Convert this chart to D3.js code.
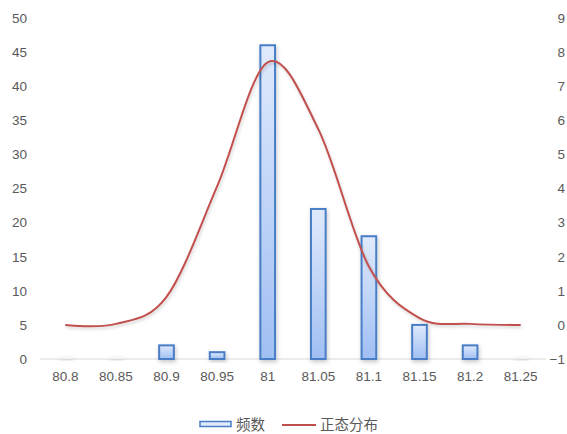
<!DOCTYPE html>
<html>
<head>
<meta charset="utf-8">
<script src="https://cdn.jsdelivr.net/npm/d3@7/dist/d3.min.js"></script>
<style>
  html, body { margin: 0; padding: 0; background: #fff; }
  svg { display: block; }
  text { font-family: "Liberation Sans", Arial, sans-serif; fill: #595959; }
  .cjk { font-family: "Noto Sans CJK SC", sans-serif; }
</style>
</head>
<body>
<svg id="chart" width="567" height="434"></svg>
<script>
// Measurement bins, counts per bin and the fitted normal density
const categories = ["80.8", "80.85", "80.9", "80.95", "81", "81.05", "81.1", "81.15", "81.2", "81.25"];
const counts = [0, 0, 2, 1, 46, 22, 18, 5, 2, 0];
const density = [0.0, 0.03, 0.82, 4.06, 7.70, 5.74, 1.71, 0.20, 0.03, 0.0];
const leftTicks = [0, 5, 10, 15, 20, 25, 30, 35, 40, 45, 50];
const rightTicks = [-1, 0, 1, 2, 3, 4, 5, 6, 7, 8, 9];
const seriesNames = ["频数", "正态分布"];

const svg = d3.select("#chart");
const plot = { left: 40, right: 546, top: 18, bottom: 359 };

const x = d3.scaleBand().domain(categories).range([plot.left, plot.right]);
const yL = d3.scaleLinear().domain([0, 50]).range([plot.bottom, plot.top]);
const yR = d3.scaleLinear().domain([-1, 9]).range([plot.bottom, plot.top]);

const defs = svg.append("defs");
const grad = defs.append("linearGradient")
  .attr("id", "barFill").attr("x1", 0).attr("y1", 0).attr("x2", 0).attr("y2", 1);
grad.append("stop").attr("offset", "0%").attr("stop-color", "#e0eafc");
grad.append("stop").attr("offset", "100%").attr("stop-color", "#a0bff3");

const shadow = defs.append("filter").attr("id", "shadow")
  .attr("x", "-50%").attr("y", "-50%").attr("width", "200%").attr("height", "200%");
shadow.append("feDropShadow")
  .attr("dx", 1).attr("dy", 2).attr("stdDeviation", 2)
  .attr("flood-color", "#000").attr("flood-opacity", 0.22);

const lineShadow = defs.append("filter").attr("id", "lineShadow")
  .attr("x", "-10%").attr("y", "-10%").attr("width", "120%").attr("height", "120%");
lineShadow.append("feDropShadow")
  .attr("dx", 1).attr("dy", 2).attr("stdDeviation", 1.5)
  .attr("flood-color", "#000").attr("flood-opacity", 0.18);

// Baseline
svg.append("line")
  .attr("x1", plot.left).attr("x2", plot.right)
  .attr("y1", plot.bottom).attr("y2", plot.bottom)
  .attr("stroke", "#d9d9d9").attr("stroke-width", 1);

// Left axis labels
const leftAxis = d3.axisLeft(yL).tickValues(leftTicks).tickSize(0).tickPadding(0);
const gL = svg.append("g").attr("transform", "translate(27,0)").call(leftAxis);
gL.select(".domain").remove();
gL.selectAll("text").attr("font-size", 13.5).attr("fill", "#595959")
  .attr("font-family", "Liberation Sans, Arial, sans-serif");

// Right axis labels
const rightAxis = d3.axisLeft(yR).tickValues(rightTicks).tickSize(0).tickPadding(0);
const gR = svg.append("g").attr("transform", "translate(565,0)").call(rightAxis);
gR.select(".domain").remove();
gR.selectAll("text").attr("font-size", 13.5).attr("fill", "#595959")
  .attr("font-family", "Liberation Sans, Arial, sans-serif");

// Category labels
const bottomAxis = d3.axisBottom(x).tickSize(0).tickPadding(0);
const gB = svg.append("g").attr("transform", `translate(0,${plot.bottom + 12})`).call(bottomAxis);
gB.select(".domain").remove();
gB.selectAll("text").attr("font-size", 13.5).attr("fill", "#595959")
  .attr("font-family", "Liberation Sans, Arial, sans-serif");

// Frequency bars
const barW = x.bandwidth() * 0.29;
const bars = svg.append("g");
bars.selectAll("rect.shade")
  .data(categories.map((c, i) => ({ c, v: counts[i] })).filter(d => d.v === 0))
  .join("rect")
  .attr("class", "shade")
  .attr("x", d => x(d.c) + x.bandwidth() / 2 - barW / 2)
  .attr("y", yL(0) - 3)
  .attr("width", barW).attr("height", 3)
  .attr("fill", "#f4f4f4")
  .attr("filter", "url(#shadow)")
  .attr("opacity", 0.6);

bars.selectAll("rect.bar")
  .data(categories.map((c, i) => ({ c, v: counts[i] })).filter(d => d.v > 0))
  .join("rect")
  .attr("class", "bar")
  .attr("x", d => x(d.c) + x.bandwidth() / 2 - barW / 2)
  .attr("y", d => yL(d.v))
  .attr("width", barW)
  .attr("height", d => yL(0) - yL(d.v))
  .attr("fill", "url(#barFill)")
  .attr("stroke", "#4a7ec6")
  .attr("stroke-width", 2)
  .attr("filter", "url(#shadow)");

// Normal density curve, smoothed through the bin centres
const line = d3.line()
  .x((d, i) => x(categories[i]) + x.bandwidth() / 2)
  .y(d => yR(d))
  .curve(d3.curveCatmullRom.alpha(0));
svg.append("path")
  .datum(density)
  .attr("d", line)
  .attr("fill", "none")
  .attr("stroke", "#c0504d")
  .attr("stroke-width", 2)
  .attr("filter", "url(#lineShadow)");

// Legend
const lg = svg.append("g");
lg.append("rect")
  .attr("x", 200).attr("y", 421.5).attr("width", 31).attr("height", 5)
  .attr("fill", "#dfe9fb").attr("stroke", "#4a7ec6").attr("stroke-width", 1.5);
lg.append("text").attr("class", "cjk")
  .attr("x", 236).attr("y", 430).attr("font-size", 14.5).attr("fill", "#595959")
  .text(seriesNames[0]);
lg.append("line")
  .attr("x1", 282).attr("x2", 316).attr("y1", 425).attr("y2", 425)
  .attr("stroke", "#c0504d").attr("stroke-width", 2);
lg.append("text").attr("class", "cjk")
  .attr("x", 320).attr("y", 430).attr("font-size", 14.5).attr("fill", "#595959")
  .text(seriesNames[1]);
</script>
</body>
</html>
